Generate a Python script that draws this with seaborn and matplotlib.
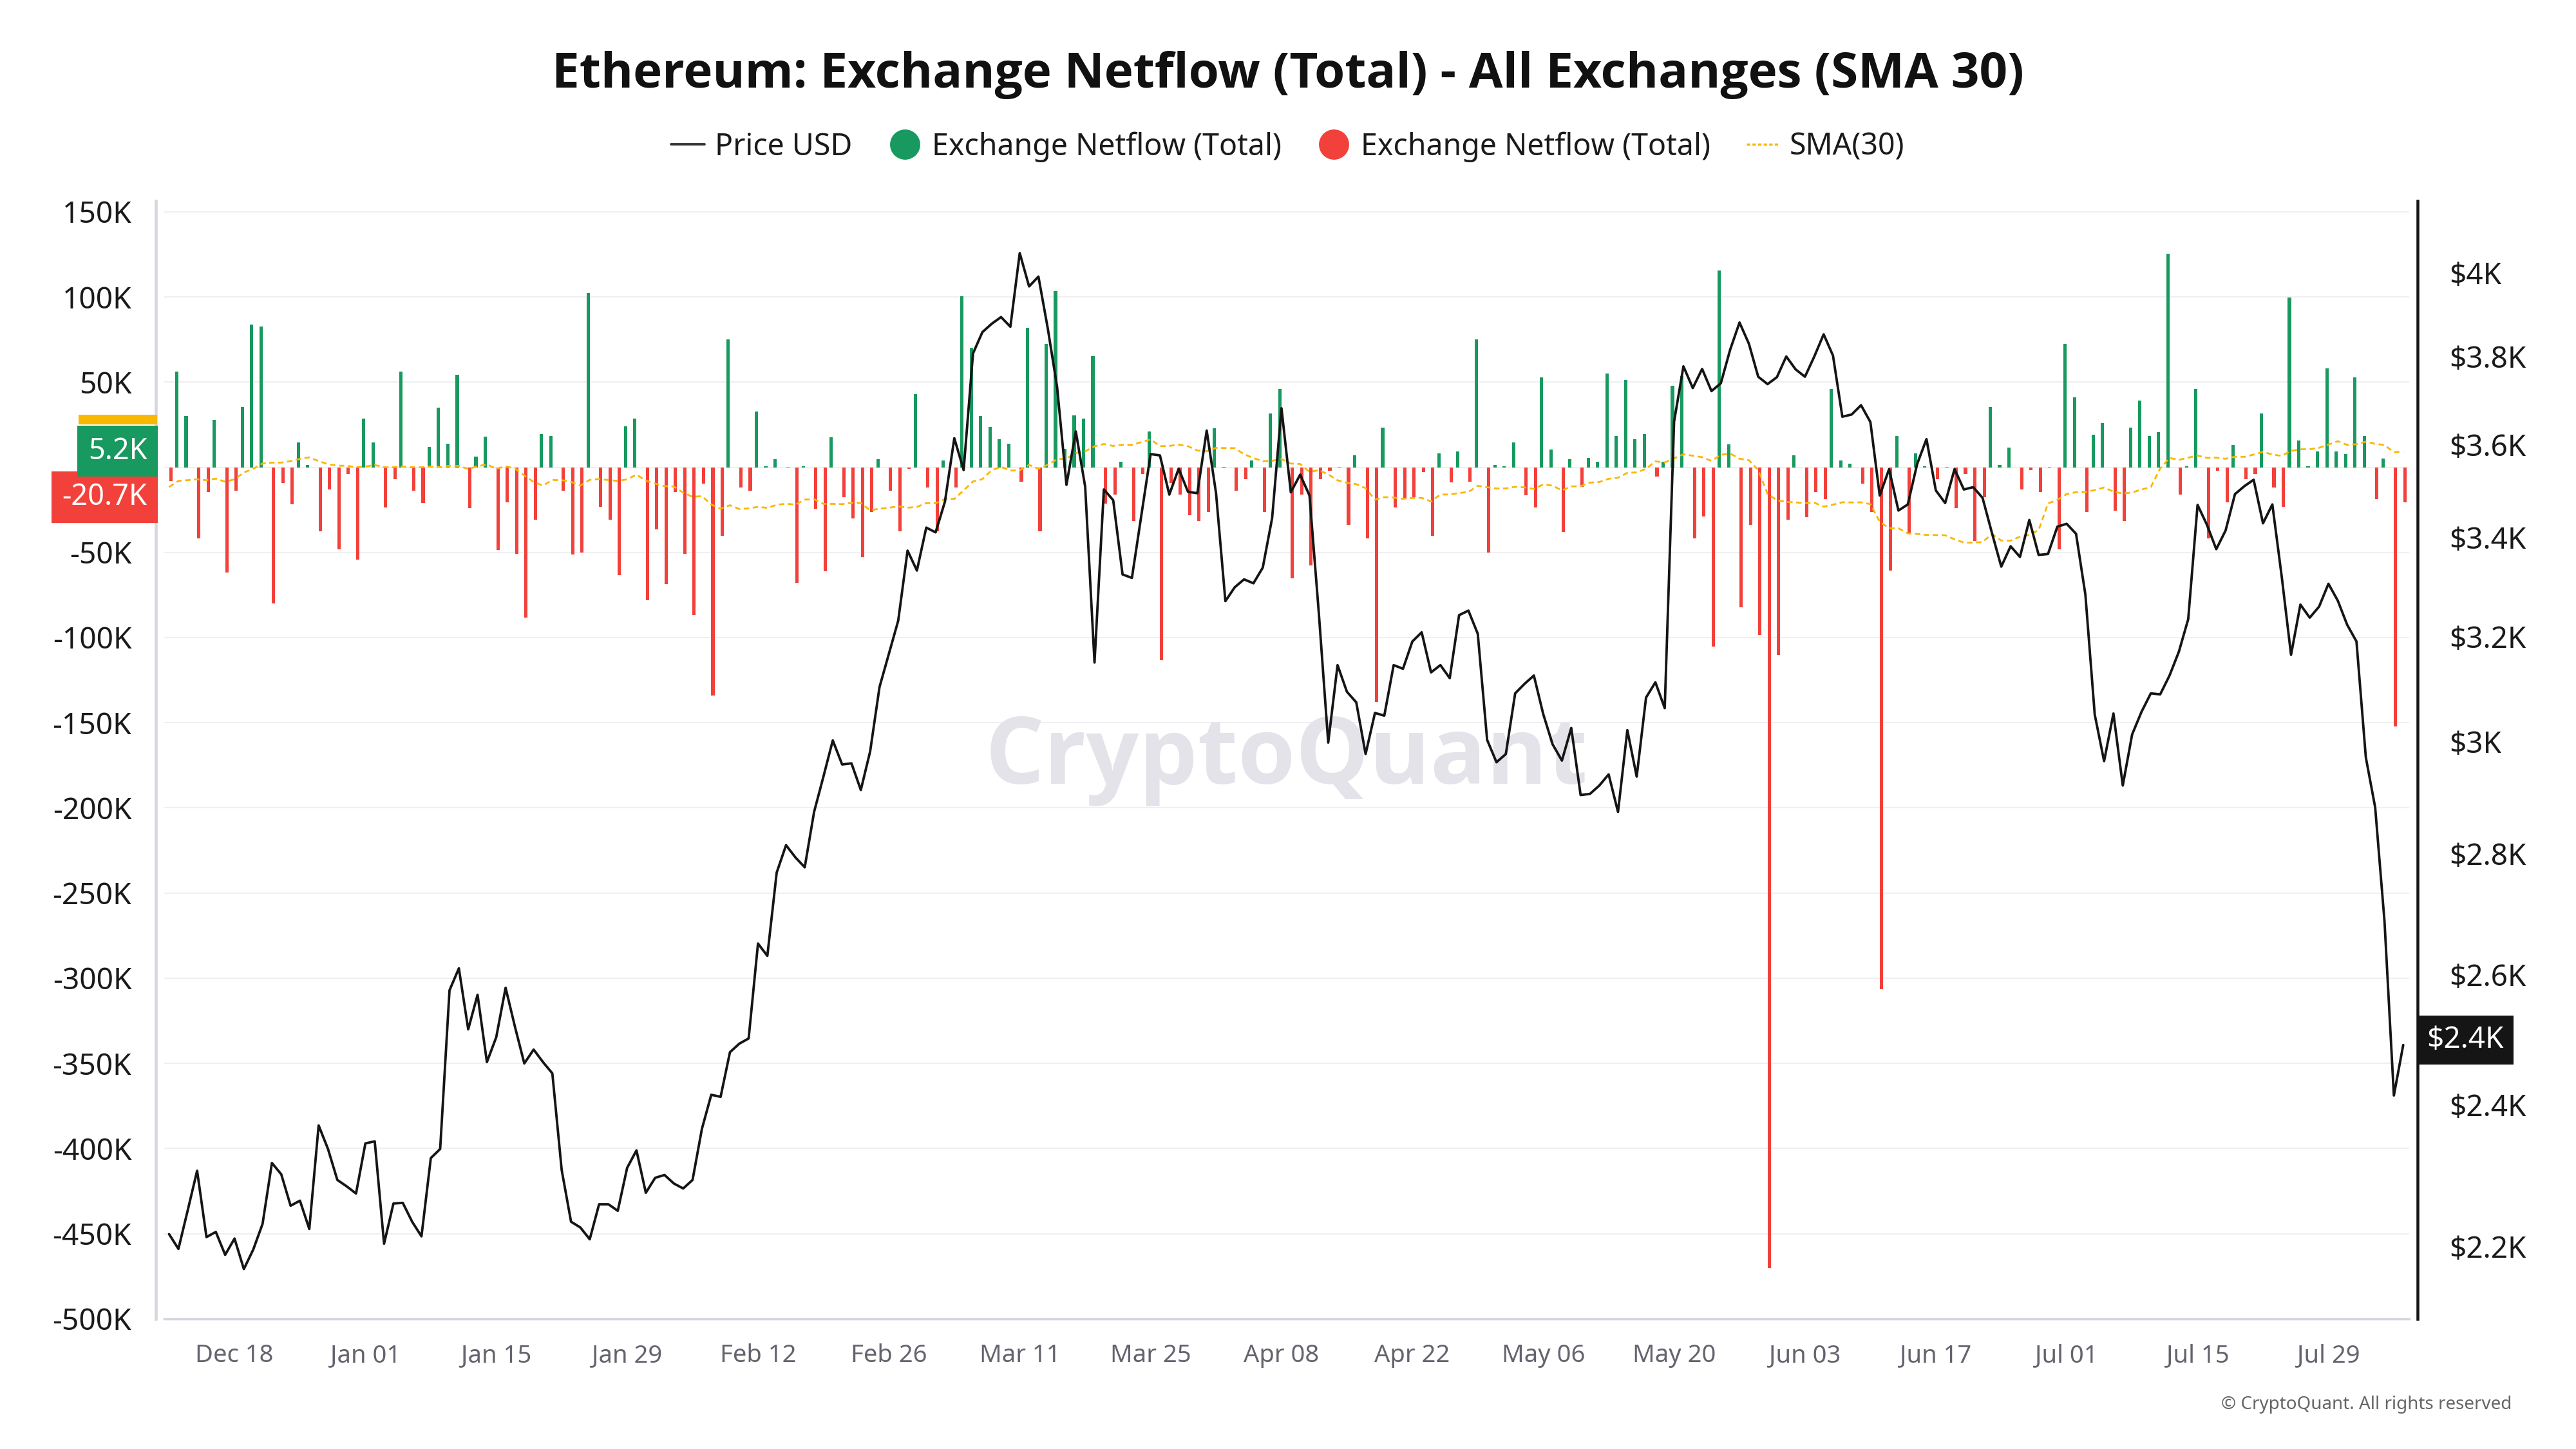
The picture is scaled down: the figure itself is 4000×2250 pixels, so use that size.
import numpy as np
import pandas as pd
import matplotlib
matplotlib.use('Agg')
import matplotlib.pyplot as plt
import matplotlib.dates as mdates
import matplotlib.ticker as mticker
import matplotlib.transforms as mtransforms
from matplotlib import font_manager as fm
from matplotlib.lines import Line2D
from matplotlib.patches import Rectangle
import seaborn as sns

# ---- data, one value per day from 2023-12-11 ----
start_date = '2023-12-11'

price_usd = [
    2217, 2197, 2250, 2305, 2213, 2220, 2189, 2211, 2170, 2196,
    2231, 2316, 2300, 2256, 2263, 2224, 2370, 2336, 2292, 2283,
    2273, 2344, 2347, 2204, 2259, 2260, 2234, 2214, 2323, 2336,
    2575, 2610, 2514, 2568, 2464, 2502, 2579, 2518, 2462, 2483,
    2464, 2447, 2306, 2234, 2226, 2210, 2258, 2258, 2249, 2309,
    2334, 2274, 2295, 2299, 2287, 2280, 2292, 2365, 2415, 2412,
    2479, 2492, 2500, 2650, 2630, 2768, 2815, 2794, 2777, 2873,
    2936, 3002, 2958, 2960, 2912, 2982, 3102, 3166, 3231, 3373,
    3332, 3421, 3411, 3476, 3614, 3544, 3807, 3857, 3877, 3893,
    3870, 4049, 3967, 3991, 3866, 3729, 3512, 3629, 3508, 3149,
    3502, 3479, 3324, 3317, 3446, 3579, 3576, 3491, 3547, 3497,
    3494, 3631, 3494, 3270, 3298, 3314, 3306, 3338, 3441, 3681,
    3496, 3534, 3489, 3245, 2998, 3144, 3093, 3073, 2977, 3053,
    3048, 3144, 3137, 3190, 3208, 3130, 3144, 3119, 3242, 3251,
    3205, 3003, 2962, 2977, 3090, 3108, 3124, 3051, 2995, 2965,
    3025, 2903, 2905, 2920, 2940, 2873, 3021, 2936, 3082, 3111,
    3062, 3651, 3777, 3727, 3771, 3720, 3738, 3816, 3880, 3830,
    3753, 3736, 3752, 3800, 3770, 3753, 3800, 3852, 3802, 3662,
    3667, 3688, 3650, 3489, 3546, 3457, 3470, 3557, 3612, 3500,
    3473, 3546, 3502, 3507, 3484, 3410, 3340, 3382, 3360, 3437,
    3364, 3366, 3423, 3429, 3408, 3283, 3050, 2964, 3052, 2920,
    3013, 3055, 3090, 3088, 3124, 3170, 3234, 3469, 3427, 3376,
    3415, 3492, 3509, 3523, 3430, 3470, 3320, 3164, 3263, 3237,
    3259, 3305, 3271, 3223, 3190, 2971, 2881, 2686, 2414, 2490,
]

# exchange netflow, thousands of ETH
netflow_k = [
    -8.0, 56.2, 29.9, -41.9, -14.7, 27.7, -62.0, -13.8, 35.2, 83.9,
    82.5, -79.9, -9.4, -21.9, 14.7, 1.3, -37.5, -12.9, -48.2, -4.0,
    -54.4, 28.6, 14.7, -23.6, -7.1, 56.2, -13.8, -21.0, 12.0, 34.8,
    13.8, 54.4, -24.1, 6.2, 17.8, -48.6, -20.5, -50.9, -88.3, -30.8,
    19.6, 18.3, -13.8, -51.3, -50.0, 102.2, -23.2, -30.8, -63.4, 24.1,
    28.6, -78.1, -36.6, -68.7, -14.7, -50.9, -86.6, -9.8, -133.9, -40.2,
    75.0, -12.0, -13.8, 32.6, 0.6, 4.9, -0.5, -67.8, 0.4, -24.5,
    -61.1, 17.4, -17.4, -29.9, -52.7, -26.3, 4.9, -13.8, -37.5, -0.8,
    42.8, -12.0, -37.5, 4.0, -12.0, 100.4, 70.1, 29.9, 23.6, 16.5,
    13.8, -8.5, 81.7, -37.5, 72.3, 103.5, 10.7, 30.3, 28.6, 65.1,
    -21.4, -16.1, 3.1, -31.7, -4.0, 21.0, -113.3, -9.4, -16.1, -28.1,
    -31.7, -26.3, 22.8, 0.3, -13.8, -7.1, 4.0, -26.3, 31.7, 46.0,
    -65.1, -16.1, -57.6, -7.1, -2.2, -0.6, -33.9, 7.1, -41.9, -137.9,
    23.2, -23.6, -18.7, -17.4, -2.7, -40.2, 8.0, -8.9, 9.4, -8.5,
    75.0, -50.0, 1.3, 0.4, 14.7, -16.5, -23.6, 52.7, 10.3, -37.9,
    4.9, -11.6, 5.4, 3.1, 54.9, 18.3, 51.3, 16.5, 19.6, -5.4,
    3.1, 47.7, 53.5, -41.9, -29.0, -105.3, 115.6, 13.4, -82.1, -33.9,
    -98.6, -470.3, -110.2, -30.8, 7.1, -29.4, -14.7, -18.7, 46.0, 4.0,
    2.2, -9.8, -26.3, -306.5, -60.7, 18.3, -38.8, 8.0, 0.5, -7.1,
    -0.4, -24.1, -4.0, -43.3, -17.4, 35.2, 1.3, 11.6, -12.9, -1.8,
    -14.7, -0.4, -48.2, 72.3, 41.0, -26.3, 19.2, 25.9, -25.4, -31.7,
    23.2, 39.3, 18.3, 20.5, 125.4, -16.1, 0.5, 46.0, -41.9, -2.2,
    -20.5, 12.9, -7.1, -4.0, 31.7, -12.0, -23.2, 99.5, 15.6, 0.4,
    9.4, 58.0, 9.4, 7.6, 52.7, 18.3, -18.7, 5.2, -152.2, -20.7,
]

# SMA(30) for the first 29 days (its window starts before the range)
sma_head = [
    -11.6, -8.0, -7.6, -7.1, -7.6, -6.7, -8.5, -7.1, -3.1, -0.9,
    2.2, 2.7, 2.7, 3.6, 4.9, 5.8, 3.6, 1.8, 0.9, 0.9,
    0.0, 0.4, 1.3, 0.0, 0.0, 0.4, 0.0, 0.0, 0.4,
]

left_ticks = list(range(-500, 151, 50))
right_ticks = [2200, 2400, 2600, 2800, 3000, 3200, 3400, 3600, 3800, 4000]
x_tick_dates = pd.date_range('2023-12-18', '2024-07-29', freq='14D')

GREEN = '#17995f'
RED = '#f2403a'
YELLOW = '#f9b700'
DARK = '#151515'

df = pd.DataFrame({
    'date': pd.date_range(start_date, periods=len(price_usd), freq='D'),
    'price': price_usd,
    'netflow': netflow_k,
})
df['x'] = mdates.date2num(df['date'])
df['sign'] = np.where(df['netflow'] >= 0, 'pos', 'neg')
sma = df['netflow'].rolling(30).mean()
sma.iloc[:len(sma_head)] = sma_head
df['sma'] = sma


# pick a family that really ships a bold face (title / watermark)
def bold_family(cands):
    for fam in cands:
        for f in fm.fontManager.ttflist:
            w = f.weight if isinstance(f.weight, int) else fm.weight_dict.get(f.weight, 400)
            if f.name == fam and w >= 600:
                return fam
    return 'DejaVu Sans'


BOLD_FAM = bold_family(['Open Sans', 'Noto Sans', 'Lato', 'Roboto', 'Inter'])

# ---- style ----
sns.set_theme(style='white')
plt.rcParams['font.family'] = ['Noto Sans', 'DejaVu Sans']

fig = plt.figure(figsize=(16, 9), dpi=250)
ax = fig.add_axes([0.06375, 0.0898, 0.8715, 0.7716])
ax2 = ax.twinx()

# netflow bars (green left / red right within each day, like the grouped source)
sns.barplot(data=df, x='x', y='netflow', hue='sign', hue_order=['pos', 'neg'],
            palette={'pos': GREEN, 'neg': RED}, native_scale=True, dodge=True,
            width=0.7, errorbar=None, saturation=1, legend=False,
            linewidth=0, ax=ax, zorder=2)

sns.lineplot(data=df, x='x', y='sma', ax=ax, color=YELLOW, linewidth=0.8,
             linestyle=(0, (3, 2)), zorder=3)

sns.lineplot(data=df, x='x', y='price', ax=ax2, color=DARK, linewidth=1.1)

# ---- axes ----
x0 = df['x'].iloc[0] - 0.52
x1 = df['x'].iloc[-1] + 0.64
ax.set_xlim(x0, x1)
ax.set_ylim(-500, 156.4)
ax.set_yticks(left_ticks)
ax.set_yticklabels([f'{v}K' for v in left_ticks])
ax.yaxis.grid(True, color='#efeff3', linewidth=0.6)
ax.xaxis.grid(False)
ax.set_axisbelow(True)
ax.set_xlabel('')
ax.set_ylabel('')

ax.set_xticks(mdates.date2num(x_tick_dates))
ax.set_xticklabels([d.strftime('%b %d') for d in x_tick_dates])
ax.tick_params(axis='x', length=7, width=0.8, color='#d4d4de', pad=4,
               labelsize=11, labelcolor='#64646f')
ax.tick_params(axis='y', length=0, pad=10.9, labelsize=13.3, labelcolor='#1a1a1a')

for s in ['top', 'right']:
    ax.spines[s].set_visible(False)
ax.spines['left'].set_position(('outward', 3.7))
ax.spines['left'].set_color('#d6d6de')
ax.spines['left'].set_linewidth(1.3)
ax.spines['bottom'].set_color('#d4d4de')
ax.spines['bottom'].set_linewidth(1.0)

ax2.set_yscale('log')
ax2.set_ylim(2104.6, 4181)
ax2.set_yticks(right_ticks)
ax2.set_yticklabels([f'${v / 1000:g}K' for v in right_ticks])
ax2.yaxis.set_minor_locator(mticker.NullLocator())
ax2.set_xlim(x0, x1)
ax2.set_xlabel('')
ax2.set_ylabel('')
ax2.tick_params(axis='y', length=0, pad=14.3, labelsize=13.2, labelcolor='#1a1a1a')
for s in ['top', 'left', 'bottom']:
    ax2.spines[s].set_visible(False)
ax2.spines['right'].set_position(('outward', 3.6))
ax2.spines['right'].set_color(DARK)
ax2.spines['right'].set_linewidth(1.3)

# ---- last-value tags ----
lt = mtransforms.blended_transform_factory(ax.transAxes, ax.transData)
# SMA tag, almost hidden behind the green one: only a thin strip shows
ax.add_patch(Rectangle((-0.0382, 25.0), 0.035, 5.8, transform=lt, facecolor=YELLOW,
                       edgecolor='none', clip_on=False, zorder=5))
ax.annotate('-20.7K', xy=(-0.0076, -20.7), xytext=(0, 2.4), textcoords='offset points',
            xycoords=lt, ha='right', va='center', fontsize=13, color='white',
            bbox=dict(boxstyle='square,pad=0.37', fc=RED, ec='none'),
            annotation_clip=False, zorder=6)
ax.annotate('5.2K', xy=(-0.0076, 5.2), xytext=(0, 3.2), textcoords='offset points',
            xycoords=lt, ha='right', va='center', fontsize=13, color='white',
            bbox=dict(boxstyle='square,pad=0.37', fc=GREEN, ec='none'),
            annotation_clip=False, zorder=7)

rt = mtransforms.blended_transform_factory(ax2.transAxes, ax2.transData)
ax2.annotate('$2.4K', xy=(1.0079, df['price'].iloc[-1]), xytext=(0, 2.2),
             textcoords='offset points', xycoords=rt, ha='left', va='center',
             fontsize=13.2, color='white',
             bbox=dict(boxstyle='square,pad=0.32', fc=DARK, ec='none'),
             annotation_clip=False)

# watermark
ax.text(0.5, 0.5, 'CryptoQuant', transform=ax.transAxes, ha='center', va='center',
        fontsize=41.5, fontweight='bold', family=BOLD_FAM, color='#e3e3e9', zorder=0.6)

# ---- title, legend, footer ----
fig.text(0.5, 1 - 116 / 2250, 'Ethereum: Exchange Netflow (Total) - All Exchanges (SMA 30)',
         ha='center', va='center', fontsize=22, fontweight='bold', family=BOLD_FAM,
         color='#111111')

handles = [
    Line2D([0], [0], color='#333333', linewidth=1.1),
    Line2D([0], [0], marker='o', color='none', markerfacecolor=GREEN,
           markeredgecolor='none', markersize=13.5),
    Line2D([0], [0], marker='o', color='none', markerfacecolor=RED,
           markeredgecolor='none', markersize=13.5),
    Line2D([0], [0], color=YELLOW, linewidth=1.0, linestyle=(0, (1.5, 1))),
]
labels = ['Price USD', 'Exchange Netflow (Total)', 'Exchange Netflow (Total)', 'SMA(30)']
fig.legend(handles, labels, loc='center', bbox_to_anchor=(0.5, 1 - 228 / 2250), ncol=4,
           frameon=False, fontsize=13.4, handlelength=1.1, handletextpad=0.35,
           columnspacing=1.2, labelcolor='#1a1a1a')

fig.text(3900 / 4000, 1 - 2181 / 2250, '\u00a9 CryptoQuant. All rights reserved',
         ha='right', va='center', fontsize=8, color='#666666')

fig.savefig('out.png', dpi=250)
